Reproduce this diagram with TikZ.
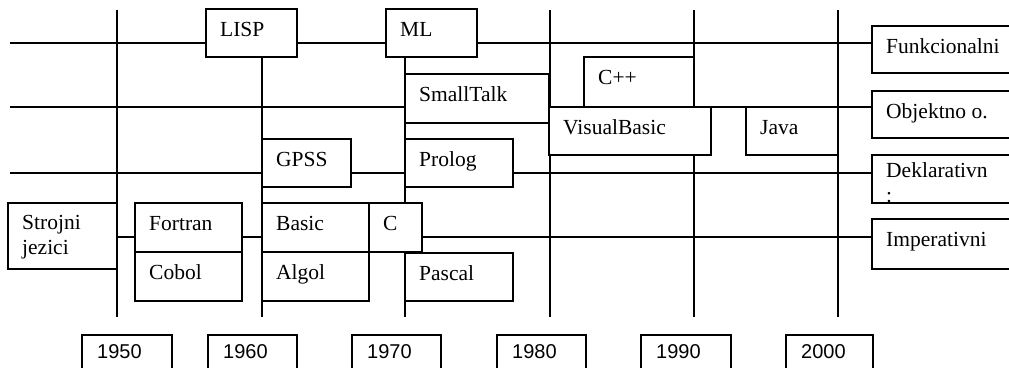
\documentclass[tikz,border=0pt]{standalone}
\usepackage{fontspec}
\setmainfont{Liberation Serif}
\newfontfamily\yrfont{Liberation Sans}
\usetikzlibrary{fit}
\tikzset{
  ln/.style={line width=1.4pt, black},
  bx/.style={draw=black, line width=1.4pt, fill=white, inner sep=0pt, outer sep=0pt},
  lbl/.style={anchor=base west, inner sep=0pt, align=left, font=\fontsize{21.5}{24.5}\selectfont},
  ylbl/.style={anchor=base west, inner sep=0pt, font=\yrfont\fontsize{20}{24}\selectfont},
}
% optional arg: offset of the LAST line's baseline below the box top
\newcommand\cbox[7][27]{%
  \node[bx, fit={(#3,#4) (#5,#6)}] (#2) {};
  \node[lbl] (#2-t) at ([shift={(14,#1)}]#2.north west) {#7};}
\newcommand\ybox[4]{%
  \node[bx, fit={(#2,335) (#3,380)}] (#1) {};
  \node[ylbl] (#1-t) at ([shift={(15,23)}]#1.north west) {#4};}
\begin{document}
\begin{tikzpicture}[x=1pt, y=-1pt]
\useasboundingbox (0,0) rectangle (1009,367);
\clip (0,0) rectangle (1009,367);
\fill[white] (0,0) rectangle (1009,367);
% category boxes
\cbox{fun}{872}{26}{1030}{73}{Funkcionalni}
\cbox{obj}{872}{91}{1030}{138}{Objektno o.}
\cbox[47]{dek}{872}{155}{1030}{203}{Deklarativn\\:}
\cbox{imp}{872}{219}{1030}{269}{Imperativni}
% horizontal lines
\coordinate (h1) at (10,43);
\coordinate (h2) at (10,107);
\coordinate (h3) at (10,173);
\coordinate (h4) at (10,237);
\draw[ln] (h1) -- (h1 -| fun.west);
\draw[ln] (h2) -- (h2 -| obj.west);
\draw[ln] (h3) -- (h3 -| dek.west);
\draw[ln] (h4) -- (h4 -| imp.west);
% vertical lines
\foreach \n/\x in {a/117, b/262, c/405, d/550, e/694, f/838}{
  \coordinate (v\n t) at (\x,10);
  \coordinate (v\n b) at (\x,317);
  \draw[ln] (v\n t) -- (v\n b);
}
% language boxes
\cbox{lisp}{206}{9}{297}{57}{LISP}
\cbox{ml}{386}{9}{477}{57}{ML}
\cbox{st}{405}{74}{549}{123}{SmallTalk}
\cbox{cpp}{584}{57}{694}{107}{C++}
\cbox{vb}{549}{107}{711}{155}{VisualBasic}
\cbox{java}{746}{107}{838}{155}{Java}
\cbox{gpss}{262}{139}{351}{187}{GPSS}
\cbox{prolog}{405}{139}{513}{187}{Prolog}
\cbox[51]{stroj}{8}{203}{117}{269}{Strojni\\jezici}
\cbox{fortran}{135}{203}{242}{252}{Fortran}
\cbox{cobol}{135}{252}{242}{301}{Cobol}
\cbox{basic}{262}{203}{369}{252}{Basic}
\cbox{c}{369}{203}{422}{252}{C}
\cbox{algol}{262}{252}{369}{301}{Algol}
\cbox{pascal}{405}{253}{513}{301}{Pascal}
% year boxes
\ybox{y50}{82}{172}{1950}
\ybox{y60}{208}{297}{1960}
\ybox{y70}{352}{441}{1970}
\ybox{y80}{497}{586}{1980}
\ybox{y90}{641}{731}{1990}
\ybox{y00}{786}{873}{2000}
\end{tikzpicture}
\end{document}
